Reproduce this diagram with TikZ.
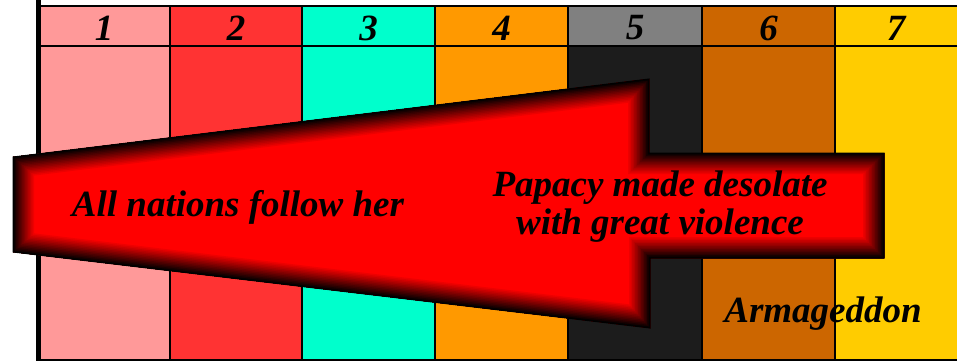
\documentclass[tikz,border=0pt]{standalone}
\usepackage{fontspec}
\setmainfont{Liberation Serif}
\usetikzlibrary{positioning}

\definecolor{colOne}{HTML}{FF9999}
\definecolor{colTwo}{HTML}{FF3333}
\definecolor{colThree}{HTML}{00FFCC}
\definecolor{colFour}{HTML}{FF9900}
\definecolor{colFiveHead}{HTML}{808080}
\definecolor{colFive}{HTML}{1C1C1C}
\definecolor{colSix}{HTML}{CC6600}
\definecolor{colSeven}{HTML}{FFCC00}

\begin{document}
\begin{tikzpicture}[x=1pt,y=-1pt,
  lbl/.style={font=\fontsize{37}{38}\selectfont\bfseries\itshape, inner sep=0pt, align=center},
  grid/.style={draw=black, line width=1.5pt}]
 \useasboundingbox (0,0) rectangle (957,361);

 % period columns
 \foreach \n/\xl/\xr/\hc/\bc in {1/38/170/colOne/colOne, 2/170/302/colTwo/colTwo,
   3/302/435/colThree/colThree, 4/435/568/colFour/colFour, 5/568/702/colFiveHead/colFive,
   6/702/835/colSix/colSix, 7/835/957/colSeven/colSeven}{
  \fill[\hc] (\xl,6) rectangle (\xr,46);
  \fill[\bc] (\xl,46) rectangle (\xr,361);
  \node[lbl] (hdr\n) at ({(\xl+\xr)/2},28) {\n};
 }
 \foreach \xd in {170,302,435,568,702,835}
  \draw[grid] (\xd,6) -- (\xd,361);
 \draw[grid] (38,46) -- (957,46);
 \draw[grid] (38,360) -- (957,360);
 \draw[line width=2.5pt] (38,6) -- (957,6);
 \draw[line width=5pt] (38,0) -- (38,361);

 % the big arrow
 \path[save path=\arrowshape] (13,157) -- (649,79) -- (649,153) -- (884,153) -- (884,258)
   -- (650,258) -- (650,328) -- (13,252) -- cycle;
 \begin{scope}
  \clip[use path=\arrowshape];
  \fill[red] (0,0) rectangle (957,361);
  \foreach \k in {1,...,14}{
   \pgfmathtruncatemacro\mix{100-7*\k}
   \draw[red!\mix!black, line width={(15-\k)*3pt}, use path=\arrowshape];
  }
 \end{scope}
 \draw[black, line width=1pt, use path=\arrowshape];

 \node[lbl, anchor=base] (follow) at (238,216) {All nations follow her};
 \node[lbl] (desolate) at (660,207) {Papacy made desolate\\with great violence};
 \node[lbl, anchor=base] (armageddon) at (823,322) {Armageddon};
\end{tikzpicture}
\end{document}
